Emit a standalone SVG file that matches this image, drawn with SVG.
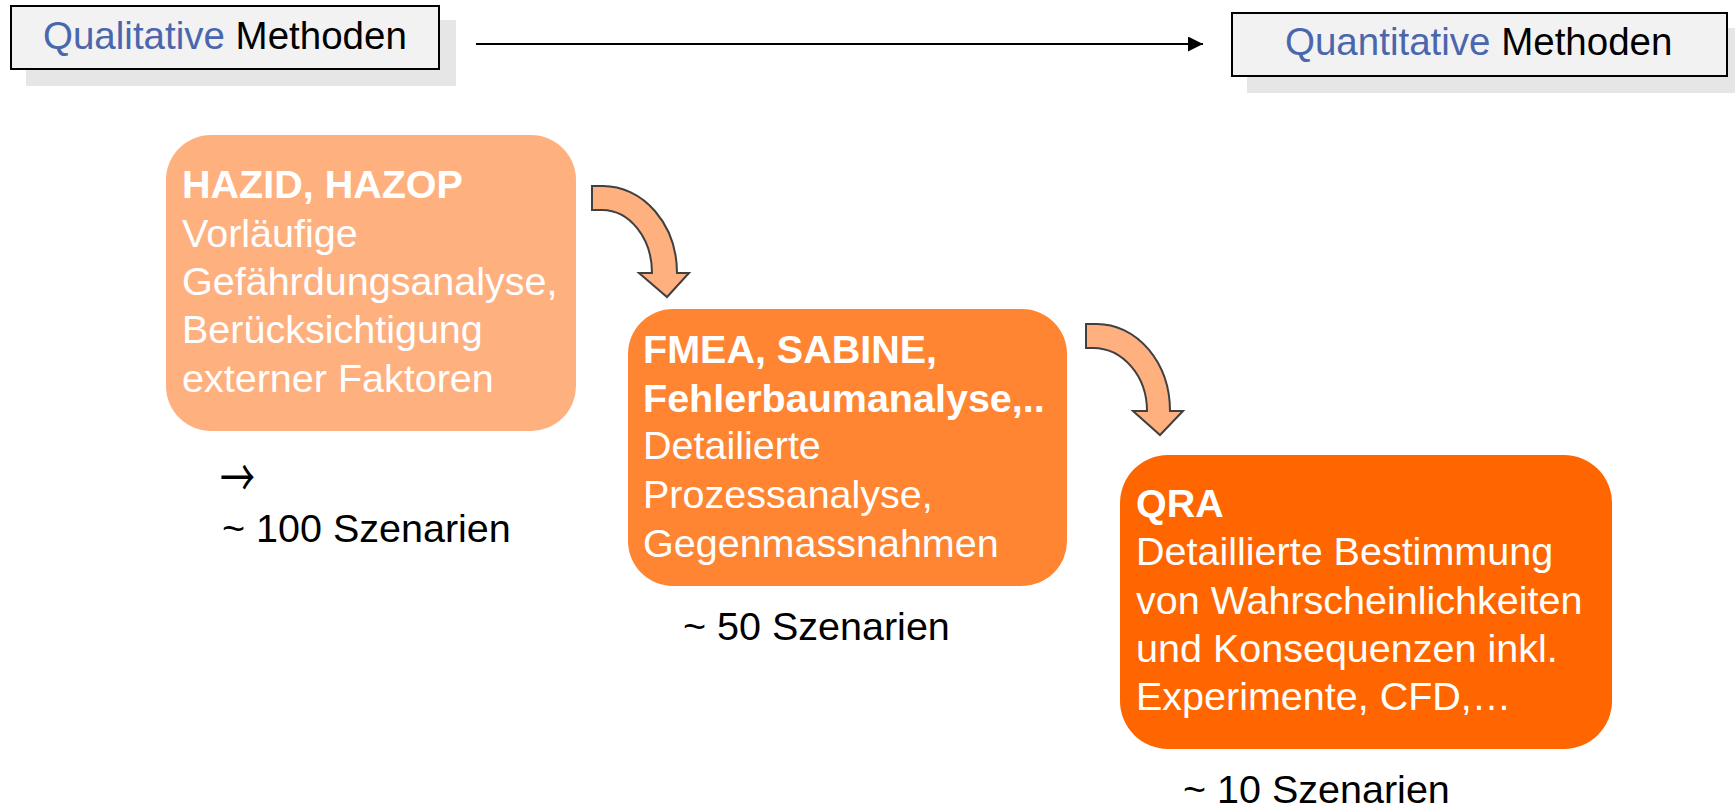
<svg xmlns="http://www.w3.org/2000/svg" width="1735" height="809" viewBox="0 0 1735 809">
  <defs>
    <marker id="head" viewBox="0 0 10 10" refX="10" refY="5" markerWidth="7.5" markerHeight="7.5" orient="auto" markerUnits="strokeWidth">
      <path d="M0,0 L10,5 L0,10 Z" fill="#000"/>
    </marker>
  </defs>
  <style>
    text { font-family: "Liberation Sans", Arial, sans-serif; }
    .shadow { fill: #e6e6e6; }
    .tag { fill: #f2f2f2; stroke: #000; stroke-width: 2; }
    .tagtxt { font-size: 38.5px; fill: #000; }
    .blue { fill: #4a66ac; }
    .body { font-size: 39.5px; fill: #fff; }
    .bold { font-weight: bold; }
    .count { font-size: 39.5px; fill: #000; }
    .sym { font-family: "Noto Sans CJK JP", "DejaVu Sans", sans-serif; font-size: 35px; fill: #000; }
    .bend { fill: #ffb07f; stroke: #404040; stroke-width: 2; stroke-linejoin: miter; }
  </style>
  <rect width="1735" height="809" fill="#fff"/>

  <!-- scale labels -->
  <g id="qualitative">
    <rect class="shadow" x="26" y="20" width="430" height="66"/>
    <rect class="tag" x="11" y="6" width="428" height="63"/>
    <text class="tagtxt" x="43" y="49"><tspan class="blue">Qualitative</tspan> Methoden</text>
  </g>
  <g id="quantitative">
    <rect class="shadow" x="1247" y="28" width="488" height="65"/>
    <rect class="tag" x="1232" y="13" width="495" height="63"/>
    <text class="tagtxt" x="1285" y="55"><tspan class="blue">Quantitative</tspan> Methoden</text>
  </g>

  <!-- method stages -->
  <g id="hazid">
    <rect x="166" y="135" width="410" height="296" rx="45" ry="45" fill="#ffb07f"/>
    <text class="body" x="182" y="198">
      <tspan class="bold">HAZID, HAZOP</tspan>
      <tspan x="182" y="247">Vorläufige</tspan>
      <tspan x="182" y="295">Gefährdungsanalyse,</tspan>
      <tspan x="182" y="343">Berücksichtigung</tspan>
      <tspan x="182" y="392">externer Faktoren</tspan>
    </text>
  </g>
  <g id="fmea">
    <rect x="628" y="309" width="439" height="277" rx="45" ry="45" fill="#ff8533"/>
    <text class="body" x="643" y="363">
      <tspan class="bold">FMEA, SABINE,</tspan>
      <tspan class="bold" x="643" y="412">Fehlerbaumanalyse,..</tspan>
      <tspan x="643" y="459">Detailierte</tspan>
      <tspan x="643" y="508">Prozessanalyse,</tspan>
      <tspan x="643" y="557">Gegenmassnahmen</tspan>
    </text>
  </g>
  <g id="qra">
    <rect x="1120" y="455" width="492" height="294" rx="48" ry="48" fill="#ff6600"/>
    <text class="body" x="1136" y="517">
      <tspan class="bold">QRA</tspan>
      <tspan x="1136" y="565">Detaillierte Bestimmung</tspan>
      <tspan x="1136" y="614">von Wahrscheinlichkeiten</tspan>
      <tspan x="1136" y="662">und Konsequenzen inkl.</tspan>
      <tspan x="1136" y="710">Experimente, CFD,…</tspan>
    </text>
  </g>

  <!-- scenario counts -->
  <g id="count-hazid">
    <text class="sym" transform="translate(220,477) scale(1,1.5)" x="0" y="13.3">→</text>
    <text class="count" x="222" y="542">~ 100 Szenarien</text>
  </g>
  <g id="count-fmea">
    <text class="count" x="683" y="640">~ 50 Szenarien</text>
  </g>
  <g id="count-qra">
    <text class="count" x="1183" y="803">~ 10 Szenarien</text>
  </g>

  <!-- connectors -->
  <g id="connectors">
    <line x1="476" y1="44" x2="1203" y2="44" stroke="#000" stroke-width="2" marker-end="url(#head)"/>
    <path class="bend" d="M592,186 L603,186 A74,87 0 0 1 677,273 L689,273 L667,297 L639,273 L652,273 A50,63 0 0 0 602,210 L592,210 Z"/>
    <path class="bend" d="M1086,324 L1097,324 A73,87 0 0 1 1170,411 L1183,411 L1160,435 L1133,411 L1147,411 A54,63 0 0 0 1093,348 L1086,348 Z"/>
  </g>
</svg>
